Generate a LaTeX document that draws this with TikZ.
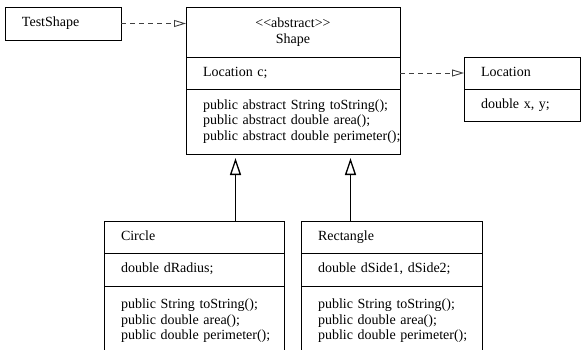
\documentclass[tikz,border=0pt]{standalone}
\usepackage{fontspec}
\setmainfont{Liberation Serif}
\usetikzlibrary{arrows.meta,positioning}

% left-aligned members, indented inside a class box
\newcommand{\memb}[1]{\hspace*{17pt}\begin{tabular}{@{}l@{}}#1\end{tabular}}

\begin{document}
\begin{tikzpicture}[x=1pt,y=-1pt,
  font=\fontsize{14}{15.5}\selectfont,
  cell/.style={draw,line width=0.8pt,inner sep=0pt,outer sep=0pt,text width=#1,align=left},
  title/.style={draw,line width=0.8pt,inner sep=0pt,outer sep=0pt,text width=#1,align=center},
  dep/.style={draw=black!75,line width=0.8pt,dash pattern=on 5pt off 4pt,
    -{Triangle[open,length=12pt,width=7pt,line width=0.9pt]}},
  inh/.style={line width=1.8pt,shorten >=4pt,
    -{Triangle[open,length=17pt,width=11pt,line width=1.3pt]}}]

\useasboundingbox (0,0) rectangle (581,350);

% abstract base class
\node[title=214pt,minimum height=50pt,anchor=north west] (shapeHead) at (186,7)
  {<\kern0pt<abstract>\kern0pt>\\Shape};
\node[cell=214pt,minimum height=32pt,below=0pt of shapeHead] (shapeAttr) {\memb{Location c;}};
\node[cell=214pt,minimum height=65pt,below=0pt of shapeAttr] (shapeOps)
  {\memb{public abstract String toString();\\
         public abstract double area();\\
         public abstract double perimeter();}};

\node[cell=116pt,minimum height=33pt,anchor=north west] (test) at (5,7) {\memb{TestShape}};

\node[cell=116pt,minimum height=32pt,anchor=north west] (locHead) at (464,57) {\memb{Location}};
\node[cell=116pt,minimum height=32pt,below=0pt of locHead] (locAttr) {\memb{double x, y;}};

% subclasses
\node[cell=180pt,minimum height=32pt,anchor=north west] (circHead) at (104,221) {\memb{Circle}};
\node[cell=180pt,minimum height=33pt,below=0pt of circHead] (circAttr) {\memb{double dRadius;}};
\node[cell=180pt,minimum height=70pt,below=0pt of circAttr] (circOps)
  {\memb{public String toString();\\
         public double area();\\
         public double perimeter();}};

\node[cell=181pt,minimum height=32pt,anchor=north west] (rectHead) at (301,221) {\memb{Rectangle}};
\node[cell=181pt,minimum height=33pt,below=0pt of rectHead] (rectAttr) {\memb{double dSide1, dSide2;}};
\node[cell=181pt,minimum height=70pt,below=0pt of rectAttr] (rectOps)
  {\memb{public String toString();\\
         public double area();\\
         public double perimeter();}};

\draw[dep] (test.east) -- (test.east -| shapeHead.west);
\draw[dep] (shapeAttr.east) -- (locHead.west);

\draw[inh] ([xshift=-57.5pt]shapeOps.south |- circHead.north) -- ([xshift=-57.5pt]shapeOps.south);
\draw[inh] ([xshift=57.5pt]shapeOps.south |- rectHead.north) -- ([xshift=57.5pt]shapeOps.south);

\end{tikzpicture}
\end{document}
